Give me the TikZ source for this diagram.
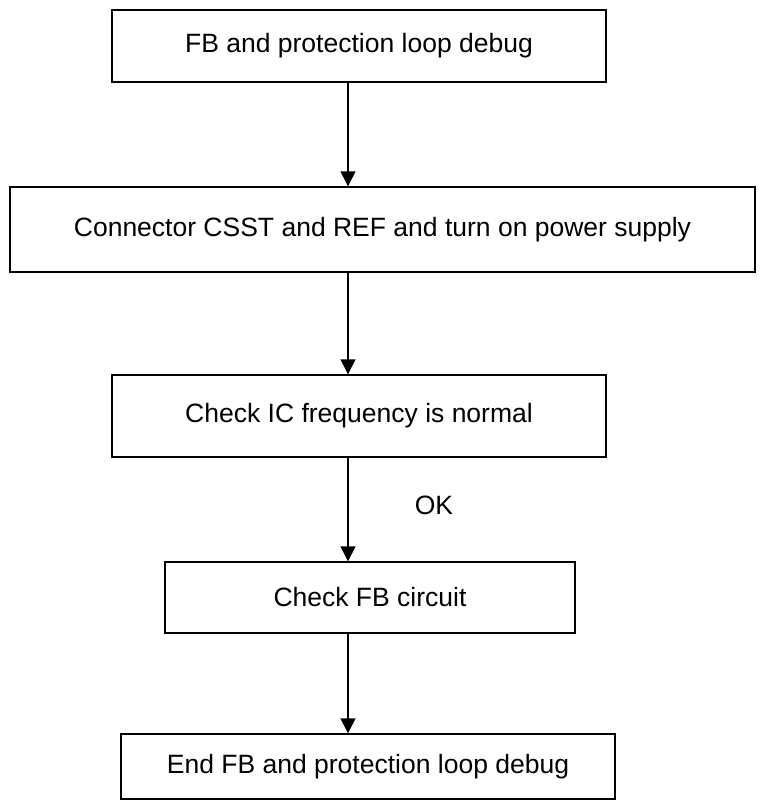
\documentclass[tikz,border=0pt]{standalone}
\usepackage{fontspec}
\setmainfont{Liberation Sans}
\usetikzlibrary{arrows.meta,positioning,calc}

\begin{document}
\begin{tikzpicture}[x=1pt,y=-1pt,
	caja/.style={draw,line width=1.4pt,inner sep=0pt,font=\fontsize{26.5}{30}\selectfont},
	flecha/.style={-{Triangle[width=15pt,length=15pt]},line width=1.4pt}]
	\useasboundingbox (0,0) rectangle (768,800);
	% cajas del flujo
	\node[caja,minimum width=494pt,minimum height=72pt] (inicio) at (359,46) {FB and protection loop debug};
	\node[caja,minimum width=745pt,minimum height=85pt] (conexion) at (382.5,229.5) {Connector CSST and REF and turn on power supply};
	\node[caja,minimum width=494pt,minimum height=82pt] (frecuencia) at (359,416) {Check IC frequency is normal};
	\node[caja,minimum width=410pt,minimum height=71pt] (circuito) at (370,597.5) {Check FB circuit};
	\node[caja,minimum width=494pt,minimum height=65pt] (fin) at (368,766.5) {End FB and protection loop debug};
	% flechas
	\coordinate (eje) at (348,0);
	\draw[flecha] (inicio.south -| eje) -- (conexion.north -| eje);
	\draw[flecha] (conexion.south -| eje) -- (frecuencia.north -| eje);
	\draw[flecha] (frecuencia.south -| eje) -- (circuito.north -| eje);
	\draw[flecha] (circuito.south -| eje) -- (fin.north -| eje);
	% etiqueta
	\node[font=\fontsize{26.5}{30}\selectfont] (ok) at (434,505) {OK};
\end{tikzpicture}
\end{document}
